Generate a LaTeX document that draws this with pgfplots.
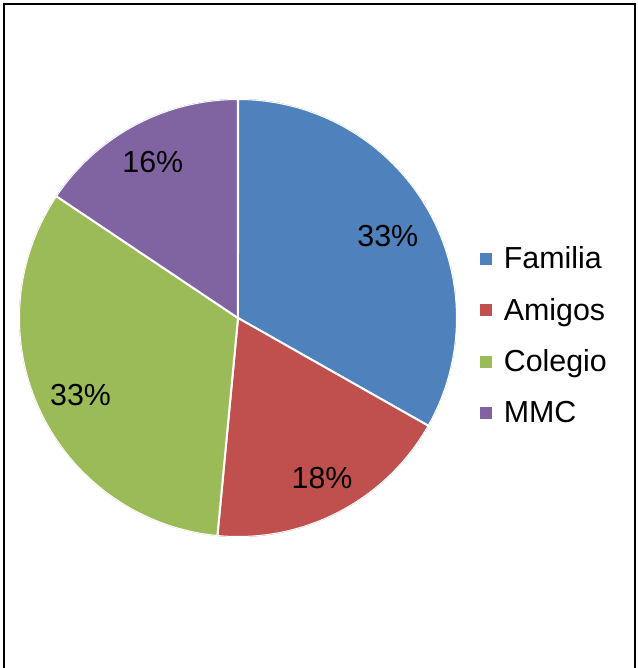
\documentclass[border=0pt]{standalone}
\usepackage{fontspec}
\setmainfont{Liberation Sans}
\usepackage{pgfplots}
\pgfplotsset{compat=1.18}
\usepgfplotslibrary{polar}
\definecolor{cFam}{HTML}{4F81BD}
\definecolor{cAmi}{HTML}{C0504D}
\definecolor{cCol}{HTML}{9BBB59}
\definecolor{cMMC}{HTML}{8064A2}
\newcommand{\bigfont}{\fontsize{22.8}{26}\selectfont}
% Shares (percent): Familia 33.2, Amigos 18.3, Colegio 32.9, MMC 15.6
% Slices run clockwise from 90 degrees; 1 percent = 3.6 degrees
\begin{document}
\begin{tikzpicture}
\useasboundingbox (0pt,0pt) rectangle (477.75pt,-501pt);
\draw[line width=1.5pt] (3pt,-503pt) -- (3pt,-3pt) -- (476.6pt,-3pt) -- (476.6pt,-503pt);
\begin{polaraxis}[
  at={(178.5pt,-238.5pt)}, anchor=center,
  scale only axis, width=328.5pt, height=328.5pt,
  hide axis, xmin=0, xmax=360, ymin=0, ymax=1,
  legend style={draw=none, fill=none, font=\bigfont,
    at={(axis description cs:1.053,0.46)}, anchor=west,
    inner sep=0pt, row sep=16.5pt, cells={anchor=west}},
  legend image code/.code={\path[#1, draw=none] (0pt,-4.5pt) rectangle (9pt,4.5pt);
    \path[draw=none, fill=none] (0pt,0pt) -- (15.5pt,0pt);},
  every axis plot/.append style={draw=white, line width=1.5pt, samples=80},
]
\addplot[fill=cFam, domain=-29.52:90] {1} -- (axis cs:0,0) -- cycle;
\addlegendentry{Familia}
\addplot[fill=cAmi, domain=-95.40:-29.52] {1} -- (axis cs:0,0) -- cycle;
\addlegendentry{Amigos}
\addplot[fill=cCol, domain=-213.84:-95.40] {1} -- (axis cs:0,0) -- cycle;
\addlegendentry{Colegio}
\addplot[fill=cMMC, domain=-270:-213.84] {1} -- (axis cs:0,0) -- cycle;
\addlegendentry{MMC}
\node[font=\bigfont] at (axis cs:28.7,0.78) {33\%};
\node[font=\bigfont] at (axis cs:-62.3,0.826) {18\%};
\node[font=\bigfont] at (axis cs:206,0.80) {33\%};
\node[font=\bigfont] at (axis cs:118.7,0.81) {16\%};
\end{polaraxis}
\end{tikzpicture}
\end{document}
